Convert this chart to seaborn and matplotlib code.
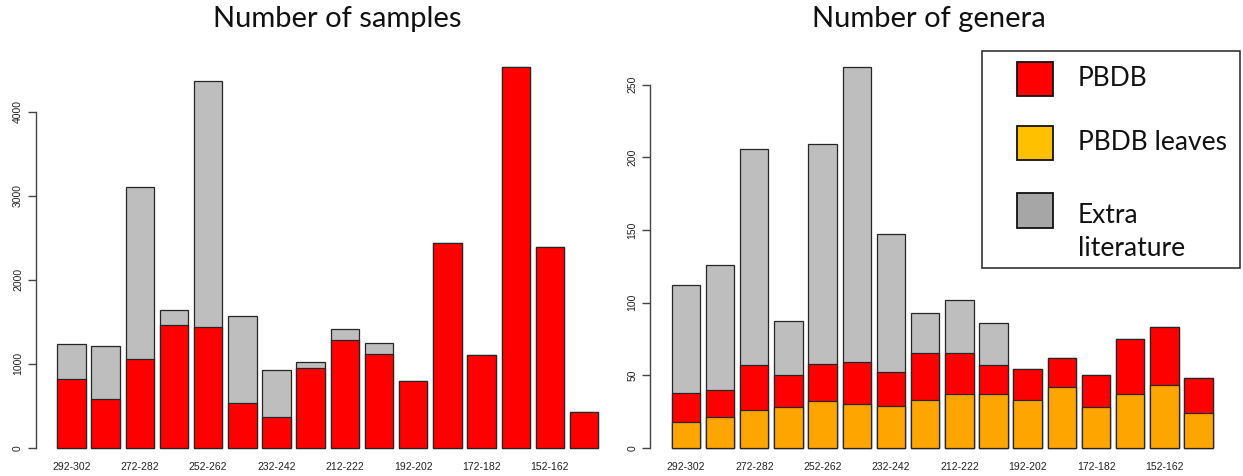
import matplotlib
matplotlib.use("Agg")
import matplotlib.pyplot as plt
from matplotlib.patches import Rectangle
import seaborn as sns
import pandas as pd

sns.set_style("white")
plt.rcParams["font.family"] = ["Liberation Sans", "DejaVu Sans"]

# Time bins (Ma), oldest first
bins = ["292-302", "282-292", "272-282", "262-272", "252-262", "242-252",
        "232-242", "222-232", "212-222", "202-212", "192-202", "182-192",
        "172-182", "162-172", "152-162", "142-152"]

# Number of samples
samples_pbdb = [818, 576, 1052, 1464, 1437, 528, 369, 945, 1286, 1115,
                790, 2440, 1107, 4528, 2385, 429]
samples_total = [1238, 1211, 3107, 1643, 4369, 1571, 929, 1024, 1409, 1250,
                 790, 2440, 1107, 4528, 2385, 429]

# Number of genera
genera_leaves = [18, 21, 26, 28, 32, 30, 29, 33, 37, 37, 33, 42, 28, 37, 43, 24]
genera_pbdb = [38, 40, 57, 50, 58, 59, 52, 65, 65, 57, 54, 62, 50, 75, 83, 48]
genera_total = [112, 126, 206, 87, 209, 262, 147, 93, 102, 86, 54, 62, 50, 75, 83, 48]

legend_labels = ["PBDB", "PBDB leaves", "Extra\nliterature"]

RED = "#FF0000"
ORANGE = "#FFA500"
GRAY = "#BEBEBE"
LEG_COLORS = ["#FF0000", "#FFC000", "#A6A6A6"]
EDGE = "#262626"

W, H = 1243, 476
fig = plt.figure(figsize=(W / 100, H / 100), dpi=100)


def px_axes(left, right, top, bottom):
    return fig.add_axes([left / W, (H - bottom) / H, (right - left) / W, (bottom - top) / H])


def draw_layers(ax, layers, top_tick, step):
    for values, color in layers:
        df = pd.DataFrame({"bin": bins, "value": values})
        sns.barplot(data=df, x="bin", y="value", color=color, saturation=1,
                    width=0.833, edgecolor=EDGE, linewidth=0.9, ax=ax,
                    order=bins)
    ymax = max(layers[0][0])
    ax.set_xlim(-1.05, len(bins) - 1 + 1.05)
    ax.set_ylim(-0.04 * ymax, 1.04 * ymax)
    ax.set_xlabel("")
    ax.set_ylabel("")
    for s in ["top", "right", "bottom"]:
        ax.spines[s].set_visible(False)
    ax.spines["left"].set_bounds(0, top_tick)
    ax.spines["left"].set_color("#444444")
    ax.spines["left"].set_linewidth(1.0)
    ax.set_yticks(range(0, top_tick + 1, step))
    ax.set_yticklabels([str(v) for v in range(0, top_tick + 1, step)],
                       rotation=90, va="center", fontsize=7.5, color="#222222")
    ax.tick_params(axis="y", length=6, width=1.0, color="#444444", pad=3, left=True)
    # every second bin is labelled, as the names would otherwise collide
    ax.set_xticks(range(0, len(bins), 2))
    ax.set_xticklabels(bins[::2], fontsize=7.5, color="#222222")
    ax.tick_params(axis="x", length=0, pad=-1)
    ax.grid(False)


ax1 = px_axes(35.5, 620, 52, 463)
draw_layers(ax1, [(samples_total, GRAY), (samples_pbdb, RED)], 4000, 1000)

ax2 = px_axes(650, 1234.5, 52, 463)
draw_layers(ax2, [(genera_total, GRAY), (genera_pbdb, RED), (genera_leaves, ORANGE)], 250, 50)

title_font = dict(family=["Lato", "DejaVu Sans"], fontsize=21, color="#111111")
fig.text(337 / W, 1 - 19 / H, "Number of samples", ha="center", va="center", **title_font)
fig.text(929 / W, 1 - 19 / H, "Number of genera", ha="center", va="center", **title_font)

# Legend box
legend_font = dict(family=["Lato", "DejaVu Sans"], fontsize=19, color="#111111")
fig.patches.append(Rectangle((982 / W, 1 - 268 / H), (1240 - 982) / W, (268 - 51) / H,
                             transform=fig.transFigure, facecolor="white",
                             edgecolor="#333333", linewidth=1.2, zorder=5))
rows = [(62, 96, 79), (126, 160, 142), (193, 228, 232)]
for (y0, y1, ty), color, label in zip(rows, LEG_COLORS, legend_labels):
    fig.patches.append(Rectangle((1017 / W, 1 - y1 / H), 36 / W, (y1 - y0) / H,
                                 transform=fig.transFigure, facecolor=color,
                                 edgecolor="#111111", linewidth=1.3, zorder=6))
    fig.text(1078 / W, 1 - ty / H, label, ha="left", va="center",
             linespacing=1.45, zorder=7, **legend_font)

fig.savefig("out.png", dpi=100)
